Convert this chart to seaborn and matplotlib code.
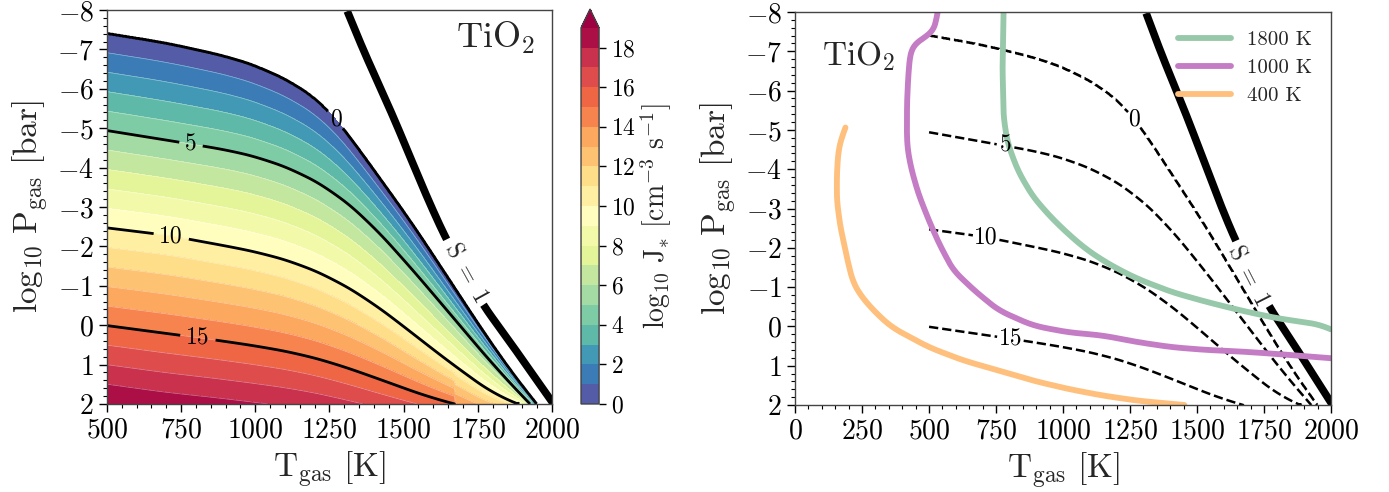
import numpy as np
import pandas as pd
import matplotlib
matplotlib.use("Agg")
import matplotlib.pyplot as plt
import seaborn as sns

# ---- iso-lines of log10 J* : (T_gas [K], log10 P_gas [bar]) ----
j_levels = [0, 5, 10, 15]
j0_T = [500, 700, 925, 1037, 1149, 1239, 1310, 1374, 1487, 1599, 1711, 1822, 1890, 1949]
j0_P = [-7.41, -7.17, -6.79, -6.49, -6.07, -5.56, -4.90, -4.20, -3.05, -1.80, -0.50, 0.75, 1.45, 2.00]
j5_T = [500, 756, 925, 1037, 1149, 1262, 1374, 1487, 1599, 1711, 1824, 1926]
j5_P = [-4.94, -4.63, -4.42, -4.20, -3.88, -3.40, -2.70, -1.78, -0.80, 0.20, 1.20, 2.00]
j10_T = [500, 717, 812, 925, 1037, 1149, 1262, 1374, 1487, 1599, 1711, 1824, 1884]
j10_P = [-2.47, -2.27, -2.13, -1.98, -1.80, -1.55, -1.18, -0.68, -0.05, 0.62, 1.25, 1.85, 2.00]
j15_T = [500, 801, 925, 1037, 1149, 1262, 1374, 1487, 1599, 1672]
j15_P = [0.01, 0.31, 0.44, 0.57, 0.73, 0.96, 1.25, 1.56, 1.86, 2.00]

# ---- supersaturation S = 1 curve ----
s1_T = [1310, 1363, 1464, 1582, 1644, 1767, 1869, 1992, 2010]
s1_P = [-7.97, -7.00, -5.31, -3.19, -2.17, -0.52, 0.54, 1.86, 2.05]
s1_gap = (-2.17, -0.52)

# ---- T-P profiles ----
p1800_T = [778, 776, 774, 776, 778, 791, 811, 837, 888, 953, 1018, 1083, 1148, 1213, 1278,
           1407, 1537, 1667, 1796, 1926, 1970, 1985, 2000]
p1800_P = [-8.00, -7.30, -6.60, -6.00, -5.34, -4.74, -4.32, -3.89, -3.30, -2.79, -2.36, -1.98,
           -1.68, -1.43, -1.21, -0.87, -0.62, -0.40, -0.21, -0.08, -0.03, 0.03, 0.08]
p1000_T = [532, 525, 512, 490, 460, 441, 430, 423, 418, 417, 420, 434, 460, 499, 538, 590,
           668, 759, 888, 1018, 1148, 1278, 1407, 1537, 1667, 1796, 1926, 2000]
p1000_P = [-8.00, -7.72, -7.46, -7.37, -7.28, -7.15, -6.95, -6.44, -5.76, -4.91, -4.50, -4.00,
           -3.38, -2.70, -2.10, -1.43, -0.92, -0.41, -0.02, 0.15, 0.23, 0.40, 0.53, 0.60,
           0.64, 0.70, 0.77, 0.81]
p400_T = [188, 175, 162, 156, 156, 169, 180, 190, 214, 240, 292, 360, 499, 629, 759, 888,
          1018, 1148, 1278, 1453]
p400_P = [-5.06, -4.83, -4.49, -3.89, -3.21, -2.53, -2.20, -1.85, -1.17, -0.83, -0.41, 0.02,
          0.53, 0.87, 1.12, 1.38, 1.59, 1.76, 1.89, 2.00]
profile_names = ["1800 K", "1000 K", "400 K"]
profile_colors = ["#97c8a9", "#c47cc5", "#fec07c"]

cbar_ticks = list(range(0, 19, 2))

# ---------------------------------------------------------------
sns.set_style("ticks")
plt.rcParams.update({
    "font.family": "serif",
    "font.serif": ["cmr10"],
    "mathtext.fontset": "cm",
    "axes.formatter.use_mathtext": True,
    "axes.unicode_minus": True,
    "axes.edgecolor": "#444444",
    "axes.linewidth": 1.0,
    "xtick.color": "black",
    "ytick.color": "black",
})


def moving_average(v, n):
    """Centered running mean with linear extrapolation at both ends."""
    left = v[0] + (v[1] - v[0]) * np.arange(-n, 0)
    right = v[-1] + (v[-1] - v[-2]) * np.arange(1, n + 1)
    padded = np.concatenate([left, v, right])
    kernel = np.ones(2 * n + 1) / (2 * n + 1)
    return np.convolve(padded, kernel, mode="valid")


def smooth_line(lt, lp, step=2.0, window=170.0):
    """Resample an iso-line on a fine T grid and round off its corners."""
    t = np.arange(lt[0], lt[-1] + step / 2, step)
    p = np.interp(t, lt, lp)
    return t, moving_average(p, int(window / step) // 2)


def smooth_profile(T, P, ds=0.002, window=0.05):
    """Resample a profile along its length (axes-normalised) and smooth it."""
    x = np.asarray(T, float) / 2000.0
    y = np.asarray(P, float) / 10.0
    s = np.concatenate([[0], np.cumsum(np.hypot(np.diff(x), np.diff(y)))])
    su = np.arange(0, s[-1] + ds / 2, ds)
    xs = moving_average(np.interp(su, s, x), int(window / ds) // 2)
    ys = moving_average(np.interp(su, s, y), int(window / ds) // 2)
    return xs * 2000.0, ys * 10.0


def nucleation_field(Tg, Pg):
    """Build log10 J* on a grid by linear interpolation between the iso-lines."""
    raw = [(0, j0_T, j0_P), (5, j5_T, j5_P), (10, j10_T, j10_P), (15, j15_T, j15_P)]
    lines = [(L,) + smooth_line(lt, lp) for L, lt, lp in raw]
    J = np.full((len(Pg), len(Tg)), -1.0)
    last_slope = 10.0
    for j, T in enumerate(Tg):
        pos, lev = [], []
        for L, lt, lp in lines:
            if lt[0] <= T <= lt[-1]:
                pos.append(np.interp(T, lt, lp))
                lev.append(L)
        if not pos:
            continue
        pos = np.array(pos)
        lev = np.array(lev, float)
        if len(pos) >= 2:
            last_slope = (lev[-1] - lev[-2]) / (pos[-1] - pos[-2])
        col = np.interp(Pg, pos, lev)
        below = Pg > pos[-1]
        col[below] = lev[-1] + last_slope * (Pg[below] - pos[-1])
        col[Pg < pos[0]] = -1.0
        J[:, j] = col
    return J


Tg = np.linspace(500, 2000, 750)
Pg = np.linspace(-8, 2, 750)
J = nucleation_field(Tg, Pg)

# S = 1 curve with a gap for its label
sT, sP = smooth_line(s1_T, s1_P, step=1.0, window=60.0)
sP = np.where((sP > s1_gap[0]) & (sP < s1_gap[1]), np.nan, sP)

fig = plt.figure(figsize=(13.89, 4.92), dpi=100)
axL = fig.add_axes([0.0770, 0.1789, 0.3204, 0.8008])
cax = fig.add_axes([0.4183, 0.1789, 0.0130, 0.8028])
axR = fig.add_axes([0.5724, 0.1768, 0.3859, 0.7988])

tick_fs = 20
label_fs = 24
clabel_fs = 17

# ---------------- left panel ----------------
cf = axL.contourf(Tg, Pg, J, levels=np.arange(0, 20), cmap="Spectral_r", extend="max")
axL.contour(Tg, Pg, J, levels=np.arange(1, 19), colors="white", linewidths=0.5, alpha=0.45)
csL = axL.contour(Tg, Pg, J, levels=j_levels, colors="k", linewidths=2.0)
axL.clabel(csL, fmt="%d", fontsize=clabel_fs, inline_spacing=6,
           manual=[(1271, -5.22), (784, -4.63), (717, -2.27), (807, 0.29)])
for t in csL.labelTexts:
    t.set_rotation(0)
axL.plot(sT, sP, color="k", lw=5.5, solid_capstyle="butt")
axL.text(1712, -1.33, r"$\mathrm{S\ =\ 1}$", rotation=-61, ha="center", va="center",
         fontsize=clabel_fs)
axL.text(0.962, 0.975, r"$\mathrm{TiO_2}$", transform=axL.transAxes, ha="right", va="top",
         fontsize=26)
axL.set_xlim(500, 2000)
axL.set_ylim(2, -8)
axL.set_xticks(np.arange(500, 2001, 250))
axL.set_yticks(np.arange(-8, 3, 1))

cb = fig.colorbar(cf, cax=cax, ticks=cbar_ticks)
cb.outline.set_linewidth(1.0)
cb.ax.tick_params(labelsize=17, length=5, width=1)
cb.set_label(r"$\mathrm{log_{10}\ J_{*}\ [cm^{-3}\ s^{-1}]}$", fontsize=20, labelpad=2)

# ---------------- right panel ----------------
csR = axR.contour(Tg, Pg, J, levels=j_levels, colors="k", linewidths=1.8,
                  linestyles="--")
axR.clabel(csR, fmt="%d", fontsize=clabel_fs, inline_spacing=6,
           manual=[(1265, -5.25), (785, -4.57), (713, -2.26), (804, 0.27)])
for t in csR.labelTexts:
    t.set_rotation(0)
axR.plot(sT, sP, color="k", lw=5.5, solid_capstyle="butt")
axR.text(1693, -1.30, r"$\mathrm{S\ =\ 1}$", rotation=-63, ha="center", va="center",
         fontsize=clabel_fs)

frames = []
for name, T, P in zip(profile_names, [p1800_T, p1000_T, p400_T], [p1800_P, p1000_P, p400_P]):
    ts, ps = smooth_profile(T, P)
    frames.append(pd.DataFrame({"T": ts, "P": ps, "profile": name}))
profiles = pd.concat(frames, ignore_index=True)
sns.lineplot(data=profiles, x="T", y="P", hue="profile", hue_order=profile_names,
             palette=profile_colors, sort=False, estimator=None, lw=4.2, ax=axR)
handles, labels = axR.get_legend_handles_labels()
for h in handles:
    h.set_linewidth(4.2)
axR.legend(handles, labels, loc="upper right", frameon=False, fontsize=15,
           handlelength=2.5, labelspacing=0.45)

axR.text(0.05, 0.93, r"$\mathrm{TiO_2}$", transform=axR.transAxes, ha="left", va="top",
         fontsize=24)
axR.set_xlim(0, 2000)
axR.set_ylim(2, -8)
axR.set_xticks(np.arange(0, 2001, 250))
axR.set_yticks(np.arange(-8, 3, 1))

for ax in (axL, axR):
    ax.set_xlabel(r"$\mathrm{T_{gas}\ [K]}$", fontsize=label_fs)
    ax.set_ylabel(r"$\mathrm{log_{10}\ P_{gas}\ [bar]}$", fontsize=label_fs)
    ax.xaxis.set_minor_locator(matplotlib.ticker.MultipleLocator(50))
    ax.yaxis.set_minor_locator(matplotlib.ticker.MultipleLocator(0.2))
    ax.tick_params(which="major", labelsize=tick_fs, length=6, width=1, direction="out")
    ax.tick_params(which="minor", length=3, width=0.8, direction="out")

fig.savefig("out.png", dpi=100)
